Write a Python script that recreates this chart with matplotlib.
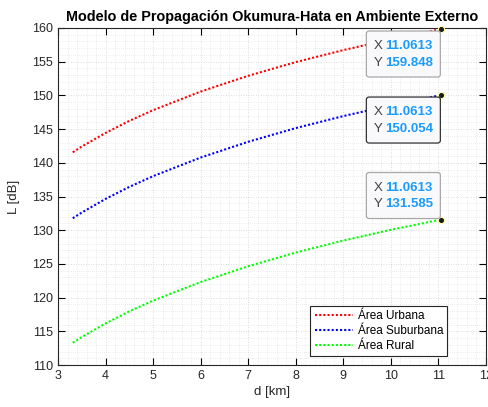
import matplotlib
matplotlib.use("Agg")
import matplotlib.pyplot as plt
from matplotlib.patches import FancyBboxPatch
from matplotlib.ticker import AutoMinorLocator

plt.rcParams["font.family"] = ["Liberation Sans", "DejaVu Sans"]

# values
d_km = [3.31, 3.5, 4, 4.5, 5, 6, 7, 8, 9, 10, 11.0613]
L_urbana = [141.56, 142.41, 144.43, 146.22, 147.81, 150.57, 152.91, 154.94, 156.72, 158.32, 159.848]
L_suburbana = [131.77, 132.62, 134.64, 136.43, 138.02, 140.78, 143.12, 145.15, 146.93, 148.53, 150.054]
L_rural = [113.30, 114.15, 116.17, 117.96, 119.55, 122.31, 124.65, 126.68, 128.46, 130.06, 131.585]

series = [
    ("Área Urbana", L_urbana, "#ff0000"),
    ("Área Suburbana", L_suburbana, "#0000ff"),
    ("Área Rural", L_rural, "#00ff00"),
]

W, H = 488, 407
fig = plt.figure(figsize=(W / 100, H / 100), dpi=100)
ax = fig.add_axes([58 / W, 42 / H, 428 / W, 337 / H])

for label, vals, color in series:
    ax.plot(d_km, vals, linestyle=(0, (1, 1)), color=color, linewidth=1.5, label=label)

ax.set_xlim(3, 12)
ax.set_ylim(110, 160)
ax.set_xticks(range(3, 13))
ax.set_yticks(range(110, 161, 5))
ax.xaxis.set_minor_locator(AutoMinorLocator(5))
ax.yaxis.set_minor_locator(AutoMinorLocator(5))
ax.grid(True, which="major", color="#d0d0d0", linestyle=(0, (1, 2)), linewidth=0.6)
ax.grid(True, which="minor", color="#dcdcdc", linestyle=(0, (1, 2)), linewidth=0.5)
ax.set_axisbelow(True)
ax.tick_params(which="major", direction="in", top=True, right=True, length=5,
               labelsize=9, labelcolor="#262626", width=0.8)
ax.tick_params(which="minor", length=0)
for sp in ax.spines.values():
    sp.set_linewidth(0.8)
    sp.set_color("#262626")

ax.set_title("Modelo de Propagación Okumura-Hata en Ambiente Externo",
             fontsize=10.4, fontweight="bold", pad=5)
ax.set_xlabel("d [km]", fontsize=9.5, color="#262626", labelpad=3)
ax.set_ylabel("L [dB]", fontsize=9.5, color="#262626", labelpad=9)

leg = ax.legend(loc="lower right", bbox_to_anchor=(0.915, 0.02), fontsize=8.5,
                fancybox=False, framealpha=1, edgecolor="#262626",
                handlelength=3.3, handletextpad=0.35, borderpad=0.35,
                labelspacing=0.25, borderaxespad=0.2)
leg.get_frame().set_linewidth(0.8)

# data tips at the end of each curve (box placement in pixels from the point)
tip_below = [True, True, False]
tip_edges = ["#a8a8a8", "#333333", "#a8a8a8"]
for i, (label, vals, color) in enumerate(series):
    x_end, y_end = d_km[-1], vals[-1]
    ax.plot([x_end], [y_end], "o", color="#1a1a1a", markersize=4.5,
            markeredgecolor="#ffffb0", markeredgewidth=0.8, clip_on=False, zorder=5)
    px, py = ax.transData.transform((x_end, y_end))
    bw, bh = 74, 46
    left = px - 75
    top = py - 2 if tip_below[i] else py + 1 + bh
    box = FancyBboxPatch((left / W, (top - bh) / H), bw / W, bh / H,
                         boxstyle="round,pad=0,rounding_size=0.006",
                         transform=fig.transFigure, fc="#f9f9fc",
                         ec=tip_edges[i], lw=0.9, zorder=6)
    fig.add_artist(box)
    rows = [("X", f"{x_end:.4f}"), ("Y", f"{y_end:.3f}")]
    for r, (name, val) in enumerate(rows):
        yc = top - 15 - r * 16.7
        fig.text((left + 7) / W, yc / H, name, fontsize=9.5, color="#404040",
                 ha="left", va="center", zorder=7)
        fig.text((left + 19) / W, yc / H, val, fontsize=9.5, color="#1a9bff",
                 fontweight="bold", ha="left", va="center", zorder=7)

plt.savefig("out.png", dpi=100)
plt.close()
